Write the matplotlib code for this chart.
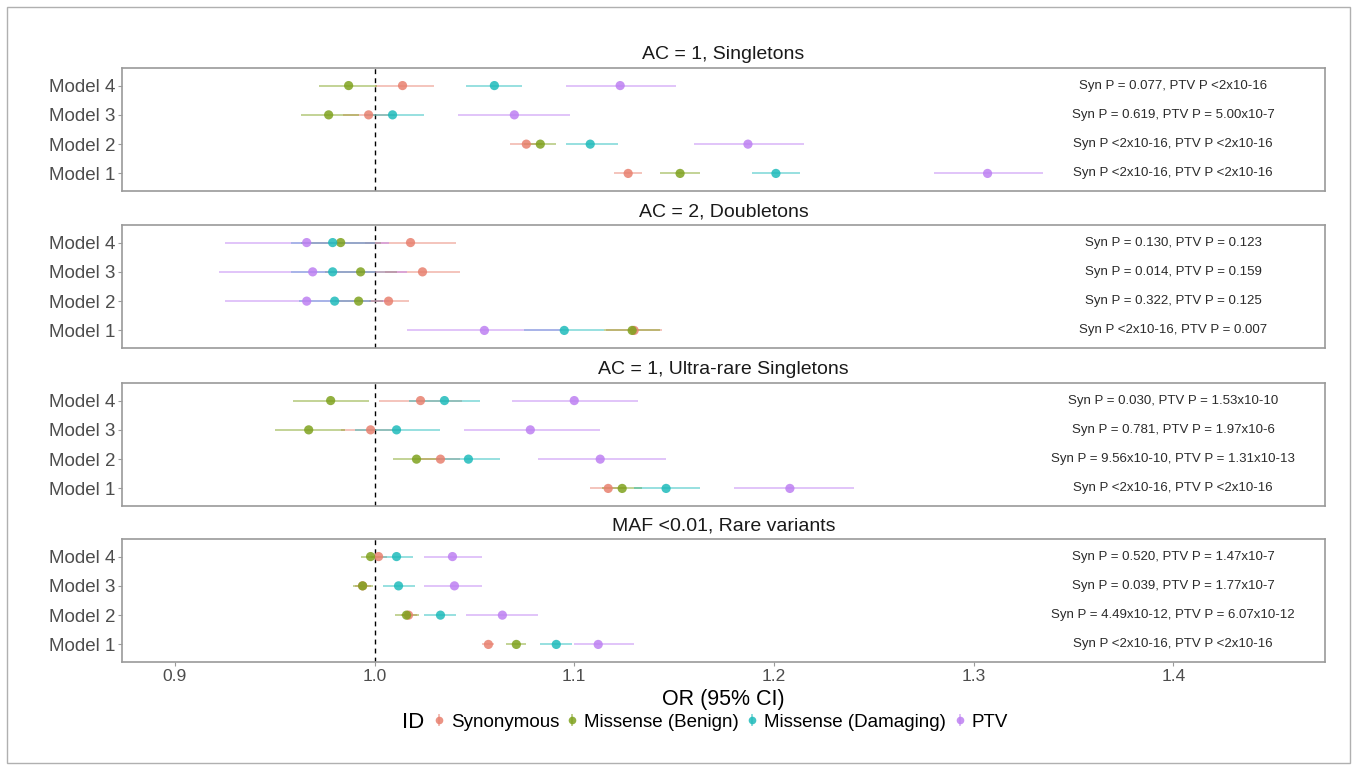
import matplotlib
matplotlib.use("Agg")
import matplotlib.pyplot as plt
from matplotlib.lines import Line2D
from matplotlib.legend_handler import HandlerTuple
from matplotlib.patches import Rectangle

plt.rcParams['font.family'] = ['Liberation Sans', 'DejaVu Sans']

W, H = 1357, 770

models = ["Model 1", "Model 2", "Model 3", "Model 4"]
categories = ["Synonymous", "Missense (Benign)", "Missense (Damaging)", "PTV"]
colors = ["#E8806F", "#7FA21E", "#1FBBBB", "#BD80F2"]
panel_titles = ["AC = 1, Singletons", "AC = 2, Doubletons",
                "AC = 1, Ultra-rare Singletons", "MAF <0.01, Rare variants"]
xticks = [0.9, 1.0, 1.1, 1.2, 1.3, 1.4]
xtick_labels = ["0.9", "1.0", "1.1", "1.2", "1.3", "1.4"]

# Panel 1: AC = 1, Singletons (values for Model 1..4)
p1_syn_or = [1.127, 1.076, 0.997, 1.014]
p1_syn_lo = [1.120, 1.068, 0.984, 1.000]
p1_syn_hi = [1.134, 1.084, 1.010, 1.030]
p1_ben_or = [1.153, 1.083, 0.977, 0.987]
p1_ben_lo = [1.143, 1.075, 0.963, 0.972]
p1_ben_hi = [1.163, 1.091, 0.992, 1.001]
p1_dam_or = [1.201, 1.108, 1.009, 1.060]
p1_dam_lo = [1.189, 1.096, 0.995, 1.046]
p1_dam_hi = [1.213, 1.122, 1.025, 1.074]
p1_ptv_or = [1.307, 1.187, 1.070, 1.123]
p1_ptv_lo = [1.280, 1.160, 1.042, 1.096]
p1_ptv_hi = [1.335, 1.215, 1.098, 1.151]
p1_text = ["Syn P <2x10-16, PTV P <2x10-16", "Syn P <2x10-16, PTV P <2x10-16",
           "Syn P = 0.619, PTV P = 5.00x10-7", "Syn P = 0.077, PTV P <2x10-16"]

# Panel 2: AC = 2, Doubletons
p2_syn_or = [1.130, 1.007, 1.024, 1.018]
p2_syn_lo = [1.116, 0.997, 1.005, 0.995]
p2_syn_hi = [1.144, 1.017, 1.043, 1.041]
p2_ben_or = [1.129, 0.992, 0.993, 0.983]
p2_ben_lo = [1.115, 0.980, 0.975, 0.963]
p2_ben_hi = [1.143, 1.004, 1.011, 1.003]
p2_dam_or = [1.095, 0.980, 0.979, 0.979]
p2_dam_lo = [1.075, 0.962, 0.958, 0.958]
p2_dam_hi = [1.115, 0.998, 1.000, 1.000]
p2_ptv_or = [1.055, 0.966, 0.969, 0.966]
p2_ptv_lo = [1.016, 0.925, 0.922, 0.925]
p2_ptv_hi = [1.094, 1.007, 1.016, 1.007]
p2_text = ["Syn P <2x10-16, PTV P = 0.007", "Syn P = 0.322, PTV P = 0.125",
           "Syn P = 0.014, PTV P = 0.159", "Syn P = 0.130, PTV P = 0.123"]

# Panel 3: AC = 1, Ultra-rare Singletons
p3_syn_or = [1.117, 1.033, 0.998, 1.023]
p3_syn_lo = [1.108, 1.023, 0.983, 1.002]
p3_syn_hi = [1.126, 1.043, 1.013, 1.044]
p3_ben_or = [1.124, 1.021, 0.967, 0.978]
p3_ben_lo = [1.114, 1.009, 0.950, 0.959]
p3_ben_hi = [1.134, 1.033, 0.985, 0.997]
p3_dam_or = [1.146, 1.047, 1.011, 1.035]
p3_dam_lo = [1.130, 1.031, 0.990, 1.017]
p3_dam_hi = [1.163, 1.063, 1.033, 1.053]
p3_ptv_or = [1.208, 1.113, 1.078, 1.100]
p3_ptv_lo = [1.180, 1.082, 1.045, 1.069]
p3_ptv_hi = [1.240, 1.146, 1.113, 1.132]
p3_text = ["Syn P <2x10-16, PTV P <2x10-16", "Syn P = 9.56x10-10, PTV P = 1.31x10-13",
           "Syn P = 0.781, PTV P = 1.97x10-6", "Syn P = 0.030, PTV P = 1.53x10-10"]

# Panel 4: MAF <0.01, Rare variants
p4_syn_or = [1.057, 1.017, 0.994, 1.002]
p4_syn_lo = [1.054, 1.013, 0.990, 0.998]
p4_syn_hi = [1.060, 1.021, 0.998, 1.006]
p4_ben_or = [1.071, 1.016, 0.994, 0.998]
p4_ben_lo = [1.066, 1.010, 0.989, 0.993]
p4_ben_hi = [1.076, 1.022, 0.999, 1.003]
p4_dam_or = [1.091, 1.033, 1.012, 1.011]
p4_dam_lo = [1.083, 1.025, 1.004, 1.003]
p4_dam_hi = [1.099, 1.041, 1.020, 1.019]
p4_ptv_or = [1.112, 1.064, 1.040, 1.039]
p4_ptv_lo = [1.100, 1.046, 1.025, 1.025]
p4_ptv_hi = [1.130, 1.082, 1.054, 1.054]
p4_text = ["Syn P <2x10-16, PTV P <2x10-16", "Syn P = 4.49x10-12, PTV P = 6.07x10-12",
           "Syn P = 0.039, PTV P = 1.77x10-7", "Syn P = 0.520, PTV P = 1.47x10-7"]

panels = [
    ([(p1_syn_or, p1_syn_lo, p1_syn_hi), (p1_ben_or, p1_ben_lo, p1_ben_hi),
      (p1_dam_or, p1_dam_lo, p1_dam_hi), (p1_ptv_or, p1_ptv_lo, p1_ptv_hi)], p1_text),
    ([(p2_syn_or, p2_syn_lo, p2_syn_hi), (p2_ben_or, p2_ben_lo, p2_ben_hi),
      (p2_dam_or, p2_dam_lo, p2_dam_hi), (p2_ptv_or, p2_ptv_lo, p2_ptv_hi)], p2_text),
    ([(p3_syn_or, p3_syn_lo, p3_syn_hi), (p3_ben_or, p3_ben_lo, p3_ben_hi),
      (p3_dam_or, p3_dam_lo, p3_dam_hi), (p3_ptv_or, p3_ptv_lo, p3_ptv_hi)], p3_text),
    ([(p4_syn_or, p4_syn_lo, p4_syn_hi), (p4_ben_or, p4_ben_lo, p4_ben_hi),
      (p4_dam_or, p4_dam_lo, p4_dam_hi), (p4_ptv_or, p4_ptv_lo, p4_ptv_hi)], p4_text),
]

fig = plt.figure(figsize=(W / 100, H / 100), dpi=100)
fig.patch.set_facecolor("white")
# outer frame
fig.add_artist(Rectangle((7 / W, 7 / H), 1 - 14 / W, 1 - 14 / H, transform=fig.transFigure,
                         fill=False, edgecolor="#b0b0b0", linewidth=1.0))

left_px, right_px = 122, 1325
panel_px = [(68, 191), (225, 348), (383, 506), (539, 662)]
xlim = (0.8735, 1.476)
border_col = "#9a9a9a"
text_gray = "#4d4d4d"

for i, ((top, bot), (series, ptexts), title) in enumerate(zip(panel_px, panels, panel_titles)):
    ax = fig.add_axes([left_px / W, 1 - bot / H, (right_px - left_px) / W, (bot - top) / H])
    ypos = list(range(1, len(models) + 1))
    ax.axvline(1.0, color="black", linestyle=(0, (3.5, 3)), linewidth=1.0, zorder=1)
    for (orv, lo, hi), col in zip(series, colors):
        ax.hlines(ypos, lo, hi, color=col, alpha=0.5, linewidth=1.3, zorder=2)
        ax.scatter(orv, ypos, s=44, color=col, alpha=0.85, edgecolors="none", zorder=3)
    for y, t in zip(ypos, ptexts):
        ax.text(1.4, y, t, ha="center", va="center", fontsize=9.5, color="#2a2a2a")
    ax.set_xlim(*xlim)
    ax.set_ylim(0.4, 4.6)
    ax.set_yticks(ypos)
    ax.set_yticklabels(models, fontsize=13.5, color=text_gray)
    for s in ax.spines.values():
        s.set_color(border_col)
        s.set_linewidth(1.2)
    ax.tick_params(axis="y", length=3, width=0.8, color=border_col, pad=2)
    if i < 3:
        ax.set_xticks([])
    else:
        ax.set_xticks(xticks)
        ax.set_xticklabels(xtick_labels, fontsize=12.5, color=text_gray)
        ax.tick_params(axis="x", length=3, width=0.8, color=border_col, pad=2)
    ax.annotate(title, xy=(0.5, 1.0), xycoords="axes fraction", xytext=(0, 9.5),
                textcoords="offset points", ha="center", va="center", fontsize=14, color="#1a1a1a")

fig.text((left_px + right_px) / 2 / W, 1 - 699 / H, "OR (95% CI)", ha="center", va="center",
         fontsize=15.5, color="black")

# legend
handles = []
for col in colors:
    vline = Line2D([], [], color=col, marker="|", markersize=9, linestyle="none", alpha=0.55,
                   markeredgewidth=1.3)
    dot = Line2D([], [], color=col, marker="o", markersize=5.5, linestyle="none", alpha=0.85,
                 markeredgewidth=0)
    handles.append((vline, dot))
fig.text(402 / W, 1 - 722 / H, "ID", ha="left", va="center", fontsize=16, color="black")
fig.legend(handles, categories, handler_map={tuple: HandlerTuple(ndivide=1)},
           loc="center left", bbox_to_anchor=(432 / W, 1 - 722 / H), ncol=4, frameon=False,
           fontsize=13.5, handlelength=0.7, handletextpad=0.3, columnspacing=0.35,
           borderaxespad=0, borderpad=0)

fig.savefig("out.png", dpi=100, facecolor="white")
